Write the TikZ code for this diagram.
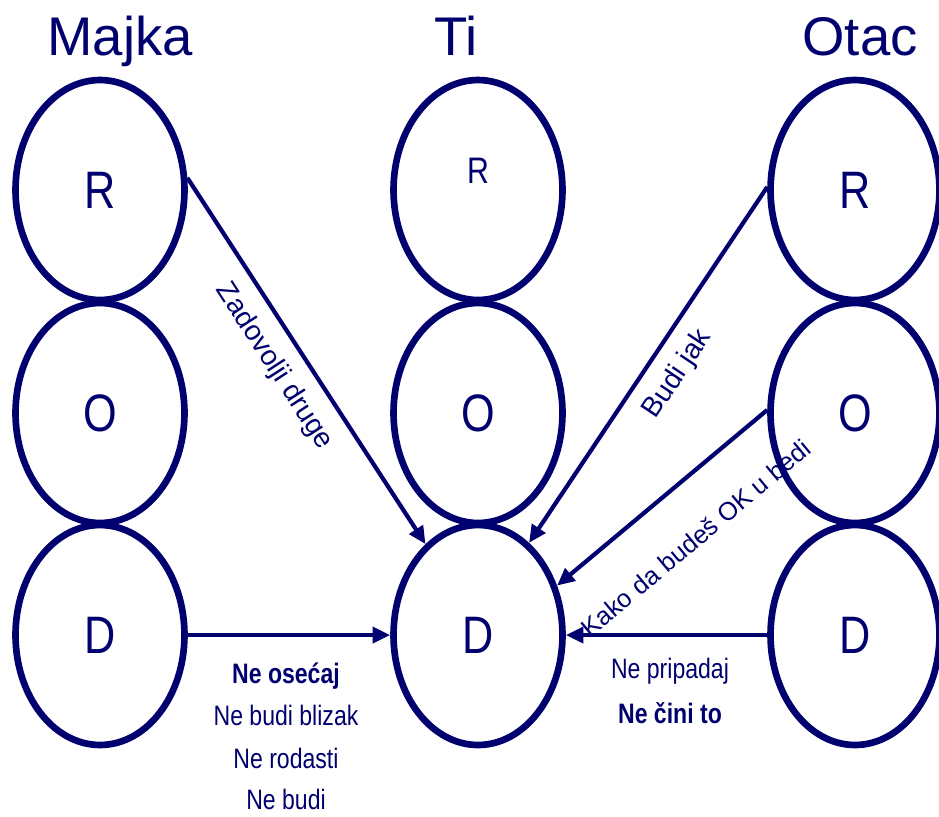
\documentclass[tikz,border=0pt]{standalone}
\usepackage{fontspec}
\setmainfont{Liberation Sans}
\newfontfamily\uskifont[FakeStretch=0.82]{Liberation Sans}
\usetikzlibrary{arrows.meta,shapes.geometric}
\definecolor{tamnoplava}{RGB}{0,0,110}

\begin{document}
\begin{tikzpicture}[x=0.02cm,y=-0.02cm,
    every node/.style={text=tamnoplava},
    krug/.style={draw=tamnoplava, ellipse, line width=3.8pt, inner sep=0pt,
      minimum width=3.38cm, minimum height=4.4cm,
      font=\uskifont\fontsize{30}{34}\selectfont},
    naslov/.style={anchor=base, font=\fontsize{31}{36}\selectfont},
    strelica/.style={draw=tamnoplava, line width=2.4pt,
      -{Triangle[length=10pt,width=9pt]}},
    poruka/.style={sloped, font=\fontsize{16}{19}\selectfont},
    zabrana/.style={anchor=base, font=\uskifont\fontsize{16}{19}\selectfont}]
        \useasboundingbox (0,0) rectangle (939,816);

        % naslovi
        \node[naslov] (majka) at (120,55) {Majka};
        \node[naslov] (ti) at (456,55) {Ti};
        \node[naslov] (otac) at (860,55) {Otac};

        % roditelji
        \foreach \kol/\x in {m/100,o/855}
        \foreach \sl/\y in {R/190,O/413,D/635}
        \node[krug] (\kol\sl) at (\x,\y) {\sl};

        % ti
        \node[krug] (tR) at (478,190) {};
        \node[font=\uskifont\fontsize{21}{24}\selectfont] (tRslovo) at (478,171) {R};
        \node[krug] (tO) at (478,413) {O};
        \node[krug] (tD) at (478,635) {D};

        % poruke
        \draw[strelica] (mR.8) to node[poruka, below=5pt, pos=0.47] {Zadovolji druge} (tD.120);
        \draw[strelica] (oR.178) to node[poruka, below=5pt, pos=0.48] {Budi jak} (tD.61);
        \draw[strelica] (oO.178) to node[poruka, below=20pt, pos=0.5, font=\fontsize{14.5}{17}\selectfont] {Kako da budeš OK u bedi} (tD.32);
        \draw[strelica] (mD.east) to (tD.west);
        \draw[strelica] (oD.west) to (tD.east);

        % zabrane
        \node[zabrana] (z1) at (286,683) {\bfseries Ne osećaj};
        \node[zabrana] (z2) at (286,725) {Ne budi blizak};
        \node[zabrana] (z3) at (286,768) {Ne rodasti};
        \node[zabrana] (z4) at (286,809) {Ne budi};
        \node[zabrana] (z5) at (670,678) {Ne pripadaj};
        \node[zabrana] (z6) at (670,723) {\bfseries Ne čini to};
      \end{tikzpicture}
\end{document}
